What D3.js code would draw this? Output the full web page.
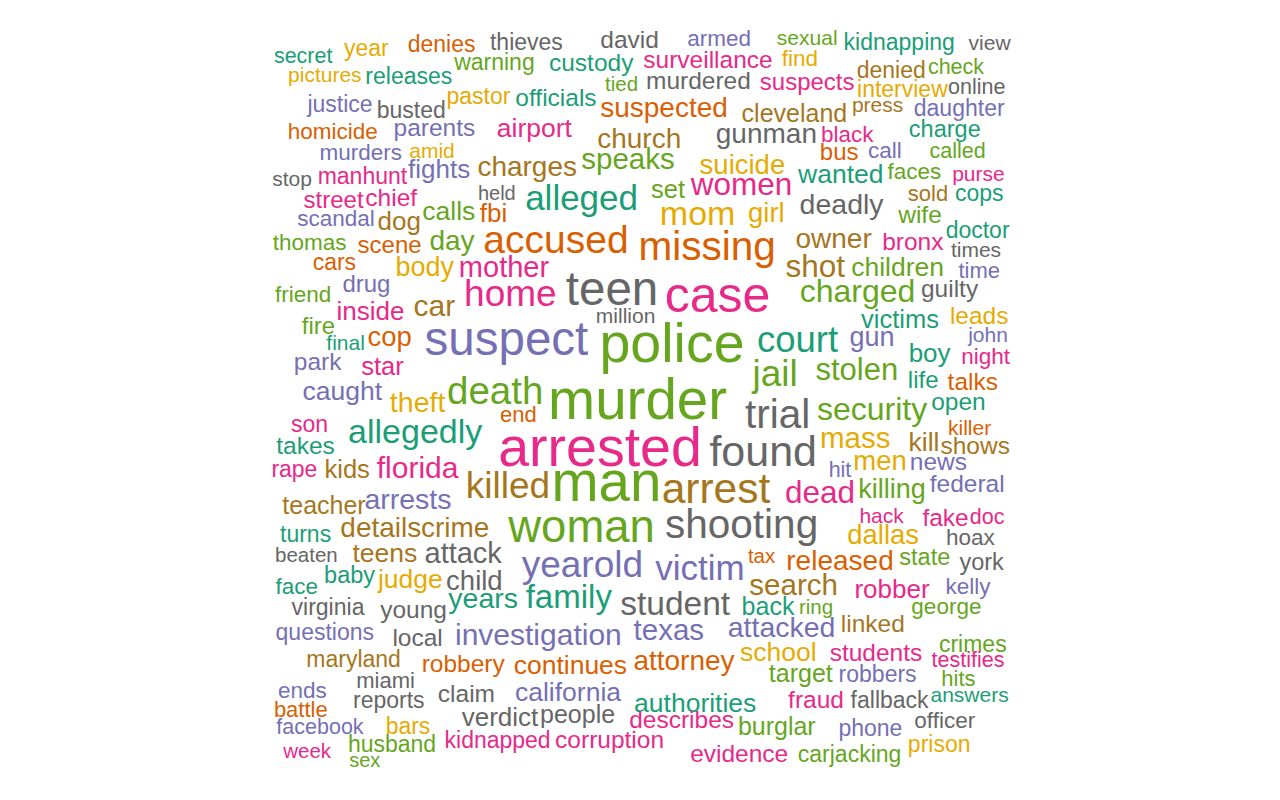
<!DOCTYPE html>
<html>
<head>
<meta charset="utf-8">
<script src="https://cdn.jsdelivr.net/npm/d3@7"></script>
<style>
  html, body { margin: 0; padding: 0; background: #fff; }
</style>
</head>
<body>
<div id="cloud"></div>
<script>
const words = [
  "secret","year","denies","thieves","david","armed","sexual","kidnapping","view","pictures",
  "releases","warning","custody","surveillance","find","denied","check","justice","busted","pastor",
  "officials","tied","murdered","suspects","interview","online","homicide","parents","airport","suspected",
  "cleveland","press","daughter","murders","amid","church","gunman","black","charge","stop",
  "manhunt","fights","charges","speaks","suicide","bus","call","called","street","chief",
  "held","wanted","faces","purse","scandal","dog","calls","fbi","alleged","set",
  "women","sold","cops","thomas","scene","day","accused","mom","girl","deadly",
  "wife","doctor","missing","owner","bronx","times","cars","body","mother","shot",
  "children","time","drug","home","teen","case","charged","guilty","friend","inside",
  "car","million","leads","fire","final","cop","suspect","police","court","victims",
  "john","gun","park","star","boy","night","jail","stolen","life","talks",
  "caught","theft","death","open","end","trial","security","murder","killer","son",
  "allegedly","kill","shows","takes","mass","arrested","found","hit","men","news",
  "rape","kids","florida","dead","killing","federal","killed","man","arrest","teacher",
  "arrests","hack","fake","doc","turns","details","crime","woman","shooting","dallas",
  "hoax","beaten","teens","attack","tax","released","state","york","face","baby",
  "judge","child","yearold","victim","search","robber","kelly","family","years","student",
  "back","ring","george","virginia","young","questions","local","investigation","texas","attacked",
  "linked","crimes","maryland","robbery","continues","attorney","school","students","testifies","miami",
  "ends","reports","claim","california","authorities","target","robbers","hits","battle","verdict",
  "people","describes","fraud","fallback","answers","facebook","bars","burglar","phone","officer",
  "kidnapped","corruption","husband","week","sex","evidence","carjacking","prison"
];

// word frequencies (drive the font size)
const freq = [
  7,10,10,10,13,9,6,10,6,6,
  10,10,13,13,9,10,7,10,10,10,
  13,5,13,12,10,7,9,13,17,20,
  14,6,10,9,6,20,20,9,11,6,
  10,16,20,23,19,12,9,7,12,13,
  4,17,9,6,9,16,17,16,34,15,
  27,8,10,9,12,20,42,32,19,21,
  13,10,45,20,13,6,10,18,22,27,
  17,8,12,38,59,64,28,13,9,16,
  24,6,13,12,6,19,59,75,37,15,
  6,18,13,15,16,9,38,26,12,13,
  17,21,41,13,8,45,28,77,6,10,
  32,17,13,13,23,75,50,7,19,13,
  10,15,24,27,18,13,38,77,49,14,
  21,6,13,7,10,20,20,55,45,19,
  9,5,17,22,5,20,11,11,9,11,
  17,19,38,34,23,16,9,30,21,31,
  14,5,9,10,13,10,13,24,23,21,
  13,10,10,13,17,20,17,13,7,8,
  9,10,13,17,17,14,10,8,8,16,
  14,13,13,10,6,7,10,14,10,9,
  10,13,10,5,4,13,10,10
];

// colour group of each word (index into the Dark2 palette)
const group = [
  0,5,1,7,7,2,4,0,7,5,
  0,4,0,3,5,6,4,2,7,5,
  0,4,7,3,5,7,1,2,3,1,
  6,6,2,2,5,6,7,3,0,7,
  3,2,6,4,5,1,2,4,3,3,
  7,0,4,3,2,6,4,1,0,4,
  3,6,0,4,1,4,1,5,5,7,
  4,0,1,6,3,7,1,5,3,6,
  4,2,2,3,7,3,4,7,4,3,
  6,7,5,4,0,1,2,4,0,0,
  2,2,2,3,0,3,4,4,0,1,
  2,5,4,0,1,7,4,4,1,3,
  0,6,6,0,5,3,7,2,5,2,
  3,6,3,3,4,2,6,4,6,6,
  2,3,3,3,0,6,6,4,7,5,
  7,7,6,7,1,1,4,7,0,0,
  5,7,2,2,6,3,2,0,0,7,
  0,4,4,7,7,2,7,2,2,2,
  6,4,6,1,1,1,5,3,3,7,
  2,7,7,2,0,4,2,4,1,7,
  7,3,3,7,0,2,5,4,2,7,
  3,3,4,3,4,3,4,5
];

// cloud layout, in the unit square of the cloud (0-100, y upwards)
const wordX = [
  7.9,15.8,25.2,35.8,48.7,59.9,70.9,82.4,93.7,10.6,
  21.1,31.8,43.9,58.5,70.0,81.4,89.5,12.5,21.4,29.8,
  39.5,47.7,57.3,70.9,82.8,92.1,11.6,24.3,36.8,53.0,
  69.3,79.7,89.9,15.1,24.0,49.9,65.8,75.9,88.1,6.5,
  15.3,24.9,35.9,48.5,62.8,74.9,80.6,89.7,11.7,18.9,
  32.1,75.1,84.3,92.3,12.0,19.9,26.1,31.7,42.7,53.5,
  62.7,86.0,92.4,8.7,18.7,26.5,39.5,57.2,65.8,75.2,
  85.0,92.2,58.4,74.2,84.1,92.0,11.8,23.1,33.0,71.9,
  82.2,92.4,15.8,33.8,46.5,59.7,77.2,88.7,7.9,16.3,
  24.3,48.2,92.4,9.8,13.2,18.7,33.3,54.0,69.7,82.5,
  93.5,79.0,9.7,17.8,86.2,93.2,66.9,77.1,85.4,91.6,
  12.8,22.2,31.9,89.8,34.8,67.2,79.0,49.7,91.2,8.7,
  21.9,85.5,91.9,8.2,76.9,45.0,65.4,75.0,80.0,87.3,
  6.8,13.4,22.2,72.5,81.5,90.9,33.5,45.8,59.5,10.5,
  21.0,80.2,88.2,93.4,8.2,17.6,26.9,42.7,62.7,80.4,
  91.3,8.3,18.1,27.9,65.2,75.0,85.6,92.7,7.1,13.7,
  21.3,29.3,42.8,57.5,69.2,81.5,91.0,41.1,30.4,54.4,
  66.0,72.0,88.3,11.0,21.7,10.6,22.2,37.3,53.6,67.7,
  79.1,91.6,14.2,27.9,41.3,55.5,67.3,79.5,91.0,18.2,
  7.8,18.6,28.3,41.0,56.9,70.1,79.7,89.8,7.6,32.5,
  42.2,55.2,72.0,81.2,91.2,10.0,21.0,67.1,78.8,88.1,
  32.2,46.2,19.0,8.4,15.6,62.4,76.2,87.4
];

const wordY = [
  92.1,93.0,93.5,93.8,94.0,94.2,94.4,93.8,93.8,89.8,
  89.5,91.2,91.1,91.5,91.7,90.2,90.7,86.0,85.3,87.0,
  86.8,88.6,88.9,88.8,87.9,88.3,82.6,83.0,82.9,85.4,
  84.8,86.0,85.5,80.0,80.3,81.5,82.1,82.3,82.9,76.8,
  77.0,77.8,78.0,78.9,78.3,80.0,80.2,80.2,74.0,74.2,
  75.0,77.1,77.6,77.4,71.7,71.3,72.5,72.3,73.8,75.2,
  75.6,74.9,74.9,68.8,68.4,68.8,68.4,71.9,72.2,73.3,
  72.1,70.2,67.5,69.0,68.8,67.9,66.2,65.5,65.4,65.4,
  65.5,65.2,63.5,61.7,61.9,61.0,62.3,62.9,62.2,60.0,
  60.5,59.6,59.5,58.3,56.2,56.8,55.6,54.8,56.0,59.0,
  57.3,56.7,53.8,53.1,54.8,54.5,51.7,52.5,51.5,51.2,
  50.0,48.5,49.5,48.8,47.3,46.5,47.5,47.6,45.6,46.0,
  44.6,43.6,43.3,43.3,44.0,41.8,41.7,40.4,41.2,41.2,
  40.4,40.3,40.3,37.1,37.7,38.5,37.7,37.4,37.1,35.8,
  36.4,34.6,34.2,34.5,32.3,32.9,32.9,32.3,32.7,32.0,
  31.9,29.8,29.8,29.6,29.6,28.8,29.4,28.8,25.8,27.1,
  26.5,26.2,27.9,27.5,25.6,25.3,25.8,24.0,24.0,23.1,
  23.1,23.3,23.3,23.1,22.7,20.0,19.2,19.4,20.0,20.4,
  21.0,18.5,16.6,16.0,15.8,16.3,17.4,17.4,16.6,14.0,
  12.7,11.5,12.3,12.4,11.0,14.8,14.8,14.2,10.4,9.2,
  9.6,9.0,11.5,11.5,12.2,8.3,8.3,8.1,8.0,9.0,
  6.5,6.5,6.0,5.2,4.1,4.8,4.8,6.0
];

const width = 1280;
const height = 800;

const svg = d3.select('#cloud').append('svg')
  .attr('width', width)
  .attr('height', height)
  .style('display', 'block');

svg.append('rect')
  .attr('width', width)
  .attr('height', height)
  .attr('fill', '#ffffff');

// square plotting region, centred in the window
const xScale = d3.scaleLinear().domain([0, 100]).range([240, 1040]);
const yScale = d3.scaleLinear().domain([0, 100]).range([height, 0]);

// font size grows linearly with frequency
const sizeScale = d3.scaleLinear().domain([0, 80]).range([18, 58]);

const color = d3.scaleOrdinal().domain(d3.range(8)).range(d3.schemeDark2);

const data = words.map((w, i) => ({
  word: w, freq: freq[i], group: group[i], x: wordX[i], y: wordY[i]
}));

svg.append('g')
  .selectAll('text')
  .data(data)
  .enter()
  .append('text')
  .attr('x', d => xScale(d.x))
  .attr('y', d => yScale(d.y))
  .attr('text-anchor', 'middle')
  .attr('font-family', '"Liberation Sans", Arial, Helvetica, sans-serif')
  .attr('font-size', d => sizeScale(d.freq))
  .attr('fill', d => color(d.group))
  .text(d => d.word);
</script>
</body>
</html>
